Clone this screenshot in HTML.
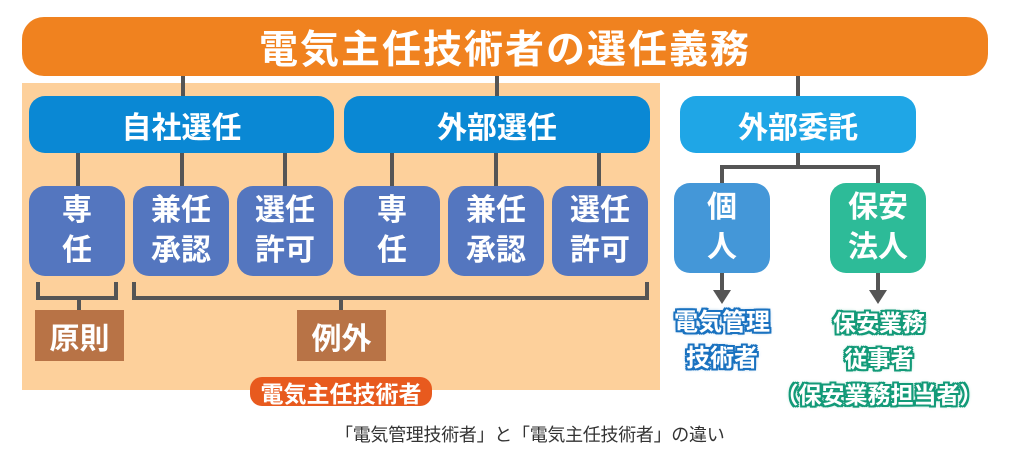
<!DOCTYPE html>
<html><head><meta charset="utf-8"><style>
body{margin:0;width:1024px;height:453px;background:#fff;position:relative;overflow:hidden;font-family:"Liberation Sans","Noto Sans CJK JP",sans-serif;font-weight:bold}
div{position:absolute;box-sizing:border-box}
.c{display:flex;align-items:center;justify-content:center;text-align:center;color:#fff}
.ln{background:#555}
.hb{background:#0a88d4;border-radius:16px;font-size:30px;top:96px;height:57px}
.sb{background:#5476bf;border-radius:16px;font-size:30px;line-height:40px;top:186px;height:90px;width:96px}
.br{background:#b87346;font-size:30px;top:310px;height:51px;width:89px}
.ob{text-shadow:2px 0 0 #1a72c0,-2px 0 0 #1a72c0,0 2px 0 #1a72c0,0 -2px 0 #1a72c0,2px 2px 0 #1a72c0,-2px -2px 0 #1a72c0,2px -2px 0 #1a72c0,-2px 2px 0 #1a72c0,0 0 4px #1a72c0}
.og{text-shadow:2px 0 0 #139a78,-2px 0 0 #139a78,0 2px 0 #139a78,0 -2px 0 #139a78,2px 2px 0 #139a78,-2px -2px 0 #139a78,2px -2px 0 #139a78,-2px 2px 0 #139a78,0 0 4px #139a78}
</style></head><body>
<div class="c" style="left:22px;top:17px;width:966px;height:59px;background:#f0821f;border-radius:22px;font-size:39px;letter-spacing:2px">電気主任技術者の選任義務</div>
<div style="left:22px;top:83px;width:638px;height:307px;background:#fdd09b"></div>
<div class="ln" style="left:181px;top:76px;width:4px;height:20px"></div>
<div class="ln" style="left:495px;top:76px;width:4px;height:20px"></div>
<div class="ln" style="left:796px;top:76px;width:4px;height:20px"></div>
<div class="c hb" style="left:29px;width:305px">自社選任</div>
<div class="c hb" style="left:344px;width:306px">外部選任</div>
<div class="c hb" style="left:680px;width:236px;background:#1fa6e6">外部委託</div>
<div class="ln" style="left:76px;top:153px;width:4px;height:33px"></div>
<div class="ln" style="left:180px;top:153px;width:4px;height:33px"></div>
<div class="ln" style="left:283px;top:153px;width:4px;height:33px"></div>
<div class="ln" style="left:390px;top:153px;width:4px;height:33px"></div>
<div class="ln" style="left:494px;top:153px;width:4px;height:33px"></div>
<div class="ln" style="left:597px;top:153px;width:4px;height:33px"></div>
<div class="c sb" style="left:29px">専<br>任</div>
<div class="c sb" style="left:133px">兼任<br>承認</div>
<div class="c sb" style="left:237px">選任<br>許可</div>
<div class="c sb" style="left:344px">専<br>任</div>
<div class="c sb" style="left:448px">兼任<br>承認</div>
<div class="c sb" style="left:552px">選任<br>許可</div>
<div class="ln" style="left:796px;top:153px;width:4px;height:15px"></div>
<div class="ln" style="left:720px;top:165px;width:160px;height:4px"></div>
<div class="ln" style="left:720px;top:165px;width:4px;height:19px"></div>
<div class="ln" style="left:876px;top:165px;width:4px;height:19px"></div>
<div class="c sb" style="left:674px;top:183px;background:#4497d8">個<br>人</div>
<div class="c sb" style="left:830px;top:183px;background:#2dbb98">保安<br>法人</div>
<svg style="position:absolute;left:0;top:0" width="1024" height="453">
<g fill="#555"><rect x="720" y="273" width="4" height="22"/><polygon points="713,290 731,290 722,304"/>
<rect x="876" y="273" width="4" height="22"/><polygon points="869,290 887,290 878,304"/></g>
<g stroke="#555" stroke-width="4" fill="none">
<path d="M38 282 V298 H116 V282"/><path d="M79 298 V310"/>
<path d="M134 282 V298 H647 V282"/><path d="M341 298 V310"/></g>
</svg>
<div class="c br" style="left:35px">原則</div>
<div class="c br" style="left:297px">例外</div>
<div class="c" style="left:250px;top:377px;width:182px;height:29px;background:#e85a1e;border-radius:12px;font-size:23px">電気主任技術者</div>
<div class="c ob" style="left:650px;top:305px;width:144px;font-size:24px;line-height:36px">電気管理<br>技術者</div>
<div class="c og" style="left:770px;top:305px;width:218px;font-size:23px;line-height:36px">保安業務<br>従事者<br>（保安業務担当者）</div>
<div style="left:335px;top:421px;width:420px;font-size:18px;color:#333;font-weight:normal;white-space:nowrap;letter-spacing:-0.3px">「電気管理技術者」と「電気主任技術者」の違い</div>
</body></html>
